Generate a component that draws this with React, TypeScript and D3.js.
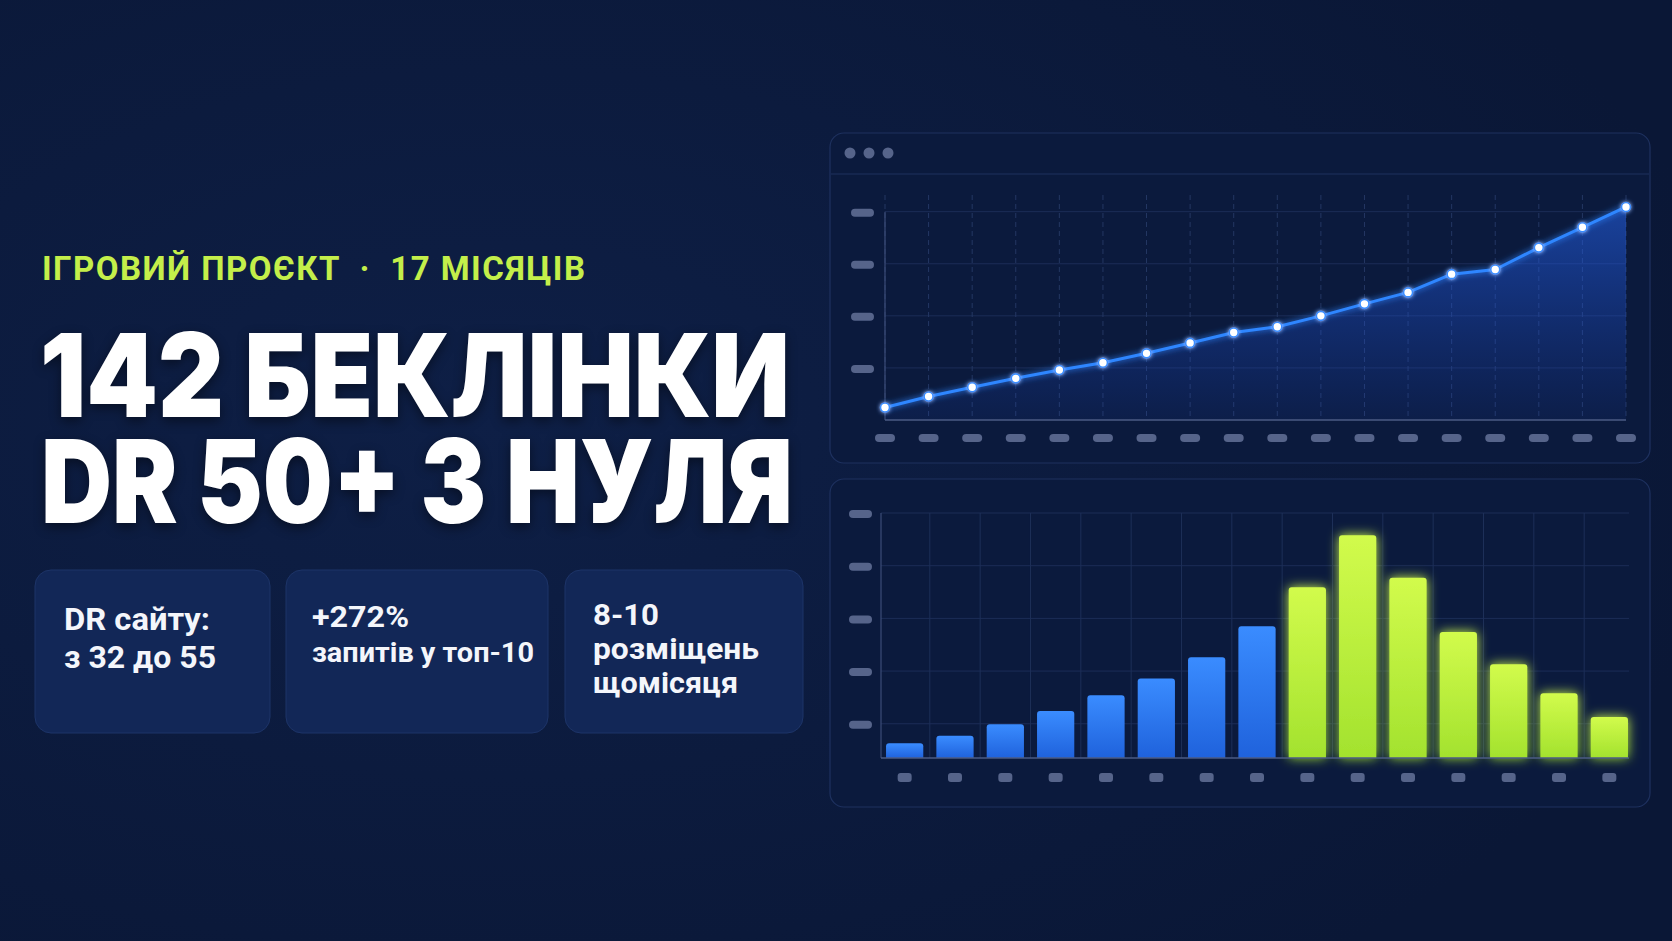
import * as d3 from "d3"
import { useRef, useEffect } from "react"

// top chart: DR growth over 18 points
const growthValues = [2.4, 4.5, 6.3, 8.0, 9.6, 11.0, 12.8, 14.8, 16.8, 17.9, 20.0, 22.3, 24.5, 28.0, 28.9, 33.1, 37.0, 40.9]
const growthTicks = [10, 20, 30, 40]

// bottom chart: placements per period
const barValues = [6.3, 7.7, 9.9, 12.4, 15.4, 18.6, 22.6, 28.5, 35.9, 45.8, 37.7, 27.4, 21.3, 15.8, 11.3]
const barPhase = ["ramp", "ramp", "ramp", "ramp", "ramp", "ramp", "ramp", "ramp", "peak", "peak", "peak", "peak", "peak", "peak", "peak"]
const barTicks = [10, 20, 30, 40, 50]

const kicker = "ІГРОВИЙ ПРОЄКТ  ·  17 МІСЯЦІВ"
const headline = ["142 БЕКЛІНКИ", "DR 50+ З НУЛЯ"]
const cards = [
  { lines: ["DR сайту:", "з 32 до 55"] },
  { lines: ["+272%", "запитів у топ-10"] },
  { lines: ["8-10", "розміщень", "щомісяця"] },
]

const W = 1672
const H = 941
const BG = "#0b1a3b"
const PILL = "#56648a"
const GRID = "#1c2d57"

export default function App() {
  const svgRef = useRef<SVGSVGElement>(null)

  useEffect(() => {
    if (!svgRef.current) return
    const svg = d3.select(svgRef.current)
    svg.selectAll("*").remove()
    svg.attr("width", W).attr("height", H).attr("viewBox", `0 0 ${W} ${H}`)

    const defs = svg.append("defs")
    const glow = (id: string, sd: number) => {
      const f = defs.append("filter").attr("id", id).attr("x", "-50%").attr("y", "-50%").attr("width", "200%").attr("height", "200%")
      f.append("feGaussianBlur").attr("in", "SourceGraphic").attr("stdDeviation", sd).attr("result", "b")
      const m = f.append("feMerge")
      m.append("feMergeNode").attr("in", "b")
      m.append("feMergeNode").attr("in", "SourceGraphic")
    }
    glow("glowLine", 3)
    glow("glowBar", 6)
    glow("glowDot", 2)

    const areaGrad = defs.append("linearGradient").attr("id", "areaGrad").attr("x1", 0).attr("y1", 0).attr("x2", 0).attr("y2", 1)
    areaGrad.append("stop").attr("offset", "0%").attr("stop-color", "#2563eb").attr("stop-opacity", 0.55)
    areaGrad.append("stop").attr("offset", "100%").attr("stop-color", "#1d4ed8").attr("stop-opacity", 0.08)
    const blueGrad = defs.append("linearGradient").attr("id", "blueGrad").attr("x1", 0).attr("y1", 0).attr("x2", 0).attr("y2", 1)
    blueGrad.append("stop").attr("offset", "0%").attr("stop-color", "#3a8cff")
    blueGrad.append("stop").attr("offset", "100%").attr("stop-color", "#1f62dc")
    const greenGrad = defs.append("linearGradient").attr("id", "greenGrad").attr("x1", 0).attr("y1", 0).attr("x2", 0).attr("y2", 1)
    greenGrad.append("stop").attr("offset", "0%").attr("stop-color", "#d2fb4c")
    greenGrad.append("stop").attr("offset", "100%").attr("stop-color", "#a3e22e")
    const bgGrad = defs.append("radialGradient").attr("id", "bgGrad").attr("cx", "30%").attr("cy", "45%").attr("r", "75%")
    bgGrad.append("stop").attr("offset", "0%").attr("stop-color", "#0e1f46")
    bgGrad.append("stop").attr("offset", "100%").attr("stop-color", "#0a1736")

    svg.append("rect").attr("width", W).attr("height", H).attr("fill", "url(#bgGrad)")

    // ---------- left text ----------
    svg
      .append("text")
      .attr("x", 42)
      .attr("y", 280)
      .attr("textLength", 543)
      .attr("lengthAdjust", "spacing")
      .style("white-space", "pre")
      .style("font-family", "Roboto, sans-serif")
      .style("font-weight", 700)
      .style("font-size", "33px")
      .style("fill", "#c4ef4a")
      .text(kicker)

    // both headline lines in one text element, one tspan each
    const head = svg
      .append("text")
      .style("font-family", "Inter, sans-serif")
      .style("font-weight", 900)
      .style("font-size", "116px")
      .style("fill", "#ffffff")
      .style("filter", "drop-shadow(0px 4px 6px rgba(0,0,0,0.45))")
    headline.forEach((line, i) => {
      head
        .append("tspan")
        .attr("x", 40 + i)
        .attr("y", i === 0 ? 417 : 523)
        .attr("textLength", i === 0 ? 750 : 752)
        .attr("lengthAdjust", "spacingAndGlyphs")
        .text(line)
    })

    const cardX = [35, 286, 565]
    const cardW = [235, 262, 238]
    const cardTextX = [64, 312, 593]
    const lineY = [
      [630, 668],
      [627, 662],
      [625, 659, 693],
    ]
    const lineSize = [
      [32, 32],
      [30, 28],
      [30, 29, 29],
    ]
    const lineLen = [
      [146, 152],
      [97, 222],
      [66, 166, 145],
    ]
    cards.forEach((c, i) => {
      svg
        .append("rect")
        .attr("x", cardX[i])
        .attr("y", 570)
        .attr("width", cardW[i])
        .attr("height", 163)
        .attr("rx", 16)
        .attr("fill", "#122757")
        .attr("stroke", "#1d3468")
        .attr("stroke-width", 1)
      c.lines.forEach((ln, j) => {
        svg
          .append("text")
          .attr("x", cardTextX[i])
          .attr("y", lineY[i][j])
          .attr("textLength", lineLen[i][j])
          .attr("lengthAdjust", "spacingAndGlyphs")
          .style("font-family", "Roboto, sans-serif")
          .style("font-weight", 700)
          .style("font-size", `${lineSize[i][j]}px`)
          .style("fill", "#f4f6fb")
          .text(ln)
      })
    })

    // ---------- panels ----------
    const panel = (y: number, h: number) =>
      svg
        .append("rect")
        .attr("x", 830)
        .attr("y", y)
        .attr("width", 820)
        .attr("height", h)
        .attr("rx", 14)
        .attr("fill", "#0b1a3d")
        .attr("stroke", "#1e315f")
        .attr("stroke-width", 1.2)
    panel(133, 330)
    panel(479, 328)

    svg
      .append("g")
      .selectAll("circle")
      .data([0, 1, 2])
      .enter()
      .append("circle")
      .attr("cx", (d) => 850 + d * 19)
      .attr("cy", 153)
      .attr("r", 5.5)
      .attr("fill", "#56648a")
    svg.append("line").attr("x1", 831).attr("x2", 1649).attr("y1", 174).attr("y2", 174).attr("stroke", "#1e315f")

    // ---------- top line chart ----------
    const tLeft = 885
    const tRight = 1626
    const tBottom = 420
    const tTop = 195
    const xTop = d3
      .scalePoint<number>()
      .domain(growthValues.map((_, i) => i))
      .range([tLeft, tRight])
    const yTop = d3.scaleLinear().domain([0, 43.2]).range([tBottom, tTop])

    svg
      .append("g")
      .selectAll("line")
      .data(growthTicks)
      .enter()
      .append("line")
      .attr("x1", tLeft)
      .attr("x2", tRight)
      .attr("y1", (d) => yTop(d))
      .attr("y2", (d) => yTop(d))
      .attr("stroke", GRID)
      .attr("stroke-width", 1)
    svg
      .append("g")
      .selectAll("line")
      .data(growthValues.map((_, i) => i))
      .enter()
      .append("line")
      .attr("x1", (d) => xTop(d)!)
      .attr("x2", (d) => xTop(d)!)
      .attr("y1", tTop)
      .attr("y2", tBottom)
      .attr("stroke", "#243763")
      .attr("stroke-width", 1)
      .attr("stroke-dasharray", "5 4")

    const area = d3
      .area<number>()
      .x((_, i) => xTop(i)!)
      .y0(tBottom)
      .y1((d) => yTop(d))
    const line = d3
      .line<number>()
      .x((_, i) => xTop(i)!)
      .y((d) => yTop(d))
    svg.append("path").datum(growthValues).attr("d", area).attr("fill", "url(#areaGrad)")

    svg.append("line").attr("x1", tLeft).attr("x2", tLeft).attr("y1", yTop(40)).attr("y2", tBottom).attr("stroke", "#3b4c78").attr("stroke-width", 1.2)
    svg.append("line").attr("x1", tLeft).attr("x2", tRight).attr("y1", tBottom).attr("y2", tBottom).attr("stroke", "#4b5b84").attr("stroke-width", 1.5)

    svg
      .append("path")
      .datum(growthValues)
      .attr("d", line)
      .attr("fill", "none")
      .attr("stroke", "#2f86ff")
      .attr("stroke-width", 3)
      .attr("stroke-linejoin", "round")
      .attr("filter", "url(#glowLine)")
    svg
      .append("g")
      .selectAll("circle")
      .data(growthValues)
      .enter()
      .append("circle")
      .attr("cx", (_, i) => xTop(i)!)
      .attr("cy", (d) => yTop(d))
      .attr("r", 4.5)
      .attr("fill", "#ffffff")
      .attr("stroke", "#3b8eff")
      .attr("stroke-width", 1.6)
      .attr("filter", "url(#glowDot)")

    // pills
    svg
      .append("g")
      .selectAll("rect")
      .data(growthTicks)
      .enter()
      .append("rect")
      .attr("x", 851)
      .attr("y", (d) => yTop(d) - 3)
      .attr("width", 23)
      .attr("height", 8)
      .attr("rx", 4)
      .attr("fill", PILL)
    svg
      .append("g")
      .selectAll("rect")
      .data(growthValues.map((_, i) => i))
      .enter()
      .append("rect")
      .attr("x", (d) => xTop(d)! - 10)
      .attr("y", 434)
      .attr("width", 20)
      .attr("height", 8)
      .attr("rx", 4)
      .attr("fill", PILL)

    // ---------- bottom bar chart ----------
    const bLeft = 881
    const bRight = 1629
    const bBottom = 758
    const bTop = 513
    const xBar = d3
      .scaleBand<number>()
      .domain(barValues.map((_, i) => i))
      .range([bLeft, bRight + 4])
      .paddingInner(0.26)
      .paddingOuter(0.1)
    const yBar = d3.scaleLinear().domain([3.5, 50]).range([bBottom, bTop])
    const gap = xBar.step() - xBar.bandwidth()

    svg
      .append("g")
      .selectAll("line")
      .data(barTicks)
      .enter()
      .append("line")
      .attr("x1", bLeft)
      .attr("x2", bRight)
      .attr("y1", (d) => yBar(d))
      .attr("y2", (d) => yBar(d))
      .attr("stroke", GRID)
      .attr("stroke-width", 1)
    svg
      .append("g")
      .selectAll("line")
      .data(barValues.map((_, i) => i).slice(1))
      .enter()
      .append("line")
      .attr("x1", (d) => xBar(d)! - gap / 2)
      .attr("x2", (d) => xBar(d)! - gap / 2)
      .attr("y1", bTop)
      .attr("y2", bBottom)
      .attr("stroke", "#1d2f58")
      .attr("stroke-width", 1)

    svg.append("line").attr("x1", bLeft).attr("x2", bLeft).attr("y1", bTop).attr("y2", bBottom).attr("stroke", "#3b4c78").attr("stroke-width", 1.2)

    const barPath = (x: number, y: number, w: number, h: number, r: number) =>
      `M${x},${y + h}V${y + r}Q${x},${y} ${x + r},${y}H${x + w - r}Q${x + w},${y} ${x + w},${y + r}V${y + h}Z`

    svg
      .append("g")
      .selectAll("path")
      .data(barValues)
      .enter()
      .append("path")
      .attr("d", (d, i) => barPath(xBar(i)!, yBar(d), xBar.bandwidth(), bBottom - yBar(d), 3))
      .attr("fill", (_, i) => (barPhase[i] === "peak" ? "url(#greenGrad)" : "url(#blueGrad)"))
      .attr("filter", (_, i) => (barPhase[i] === "peak" ? "url(#glowBar)" : null))

    svg.append("line").attr("x1", bLeft).attr("x2", bRight).attr("y1", bBottom).attr("y2", bBottom).attr("stroke", "#4b5b84").attr("stroke-width", 1.5)

    svg
      .append("g")
      .selectAll("rect")
      .data(barTicks)
      .enter()
      .append("rect")
      .attr("x", 849)
      .attr("y", (d) => yBar(d) - 3)
      .attr("width", 23)
      .attr("height", 8)
      .attr("rx", 4)
      .attr("fill", PILL)
    svg
      .append("g")
      .selectAll("rect")
      .data(barValues.map((_, i) => i))
      .enter()
      .append("rect")
      .attr("x", (d) => xBar(d)! + xBar.bandwidth() / 2 - 7)
      .attr("y", 773)
      .attr("width", 14)
      .attr("height", 9)
      .attr("rx", 3)
      .attr("fill", PILL)
  }, [])

  return (
    <div style={{ position: "absolute", left: 0, top: 0, width: W, height: H, background: BG }}>
      <svg ref={svgRef} style={{ display: "block" }}></svg>
    </div>
  )
}
